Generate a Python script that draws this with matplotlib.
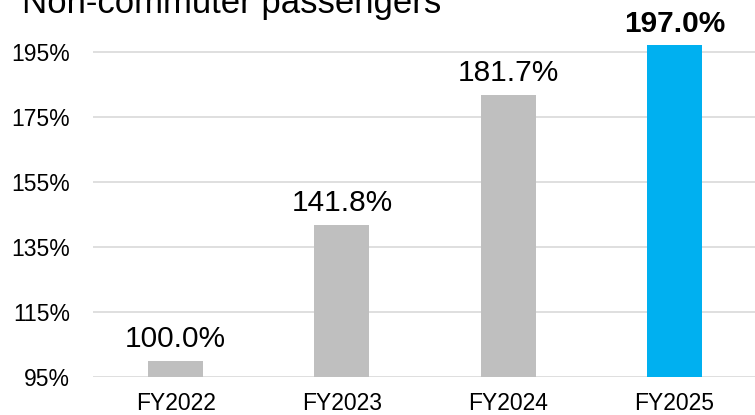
import matplotlib
matplotlib.use("Agg")
import matplotlib.pyplot as plt

plt.rcParams['font.family'] = ['Liberation Sans', 'DejaVu Sans']

years = ["FY2022", "FY2023", "FY2024", "FY2025"]
ratios = [100.0, 141.8, 181.7, 197.0]
bar_colors = ["#BFBFBF", "#BFBFBF", "#BFBFBF", "#00B0F0"]
yticks = [95, 115, 135, 155, 175, 195]

fig = plt.figure(figsize=(7.55, 4.15), dpi=100)
ax = fig.add_axes([92.5 / 755, 38 / 415, 665 / 755, 341.25 / 415])

x = range(len(years))
bars = ax.bar(x, ratios, width=0.33, color=bar_colors, zorder=2)

for i, (b, v) in enumerate(zip(bars, ratios)):
    ax.annotate(f"{v:.1f}%", (b.get_x() + b.get_width() / 2, v),
                xytext=(0, 10), textcoords="offset points",
                ha="center", va="baseline", fontsize=21.5,
                fontweight="bold" if i == len(ratios) - 1 else "normal",
                annotation_clip=False)

ax.set_xlim(-0.5, 3.5)
ax.set_ylim(95, 200)
ax.set_yticks(yticks)
ax.set_yticklabels([f"{t}%" for t in yticks])
ax.set_xticks(list(x))
ax.set_xticklabels(years)
ax.tick_params(axis="both", length=0, labelsize=16.5)
ax.tick_params(axis="y", pad=16)
ax.tick_params(axis="x", pad=11)
ax.grid(axis="y", color="#D9D9D9", linewidth=1.2, zorder=0)
for s in ax.spines.values():
    s.set_visible(False)

fig.text(22 / 755, 1 - 13 / 415, "Non-commuter passengers",
         fontsize=25, va="baseline", ha="left")

fig.savefig("out.png", dpi=100)
